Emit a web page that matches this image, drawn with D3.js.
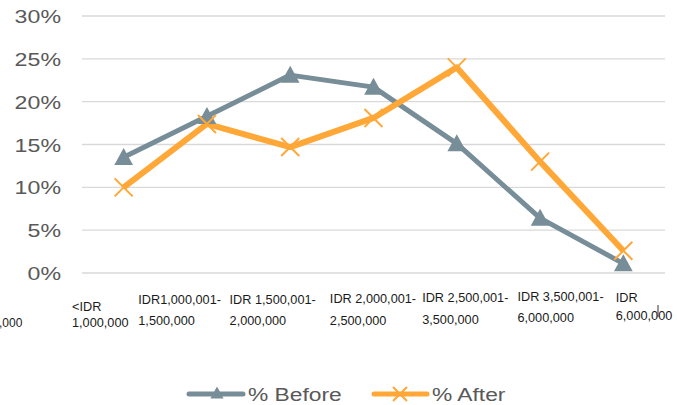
<!DOCTYPE html>
<html><head><meta charset="utf-8">
<script src="https://cdn.jsdelivr.net/npm/d3@7"></script>
<style>
html,body{margin:0;padding:0;background:#fff;}
svg{display:block;font-family:"Liberation Sans",Arial,sans-serif;}
</style></head>
<body><svg id="c" width="677" height="405"></svg>
<script>
const categories = [
  ["<IDR", "1,000,000"],
  ["IDR1,000,001-", "1,500,000"],
  ["IDR 1,500,001-", "2,000,000"],
  ["IDR 2,000,001-", "2,500,000"],
  ["IDR 2,500,001-", "3,500,000"],
  ["IDR 3,500,001-", "6,000,000"],
  ["IDR", "6,000,000"]
];
const before = [13.5, 18.3, 23.1, 21.7, 15.1, 6.4, 1.1];
const after = [10.0, 17.4, 14.7, 18.1, 24.0, 13.0, 2.6];
const yTicks = [0, 5, 10, 15, 20, 25, 30];
const seriesNames = ["% Before", "% After"];

// layout-only label placement (px) relative to category start
const labelShift = [-10, -27, -19, -2, 7, 19, 34];
const labelLine1Y = [311, 304, 304, 303, 302, 301, 302];
const labelLine2Y = [327, 325, 325, 325, 324, 322, 320];

const svg = d3.select("#c");
const gray = "#778d98", orange = "#ffa737";
const mLeft = 82, mRight = 665, mTop = 16, mBottom = 273;

const x = d3.scaleBand().domain(d3.range(categories.length)).range([mLeft, mRight]);
const y = d3.scaleLinear().domain([0, 30]).range([mBottom, mTop]);

// gridlines
svg.append("g").selectAll("line").data(yTicks).join("line")
  .attr("x1", mLeft).attr("x2", mRight)
  .attr("y1", d => y(d)).attr("y2", d => y(d))
  .attr("stroke", "#d9d9d9").attr("stroke-width", 1.3);

// y labels
const sx = 1.22;
svg.append("g").selectAll("g").data(yTicks).join("g")
  .attr("transform", d => `translate(61,${y(d) + 7}) scale(${sx},1)`)
  .append("text").attr("text-anchor", "end")
  .attr("font-size", 19).attr("fill", "#595959")
  .text(d => d + "%");

// x labels
const xl = svg.append("g").attr("font-size", 12).attr("fill", "#1a1a1a");
categories.forEach((c, i) => {
  const g = xl.append("g").attr("transform", `translate(${x(i) + labelShift[i]},0) scale(1.06,1)`);
  g.append("text").attr("x", 0).attr("y", labelLine1Y[i]).text(c[0]);
  g.append("text").attr("x", 0).attr("y", labelLine2Y[i]).text(c[1]);
});
// clipped fragment at left edge
xl.append("text").attr("x", -1).attr("y", 327).text(",000");
svg.append("line").attr("x1", 658).attr("x2", 658).attr("y1", 305).attr("y2", 317)
  .attr("stroke", "#333").attr("stroke-width", 1);

const cx = i => x(i) + x.bandwidth() / 2;
const line = d3.line().x((d, i) => cx(i)).y(d => y(d));

svg.append("path").datum(before).attr("d", line)
  .attr("fill", "none").attr("stroke", gray).attr("stroke-width", 5).attr("stroke-linejoin", "round");
svg.append("path").datum(after).attr("d", line)
  .attr("fill", "none").attr("stroke", orange).attr("stroke-width", 6).attr("stroke-linejoin", "round");

const tri = (s) => `M0,${-s * 0.55}L${s * 0.55},${s * 0.45}L${-s * 0.55},${s * 0.45}Z`;
svg.append("g").selectAll("path").data(before).join("path")
  .attr("transform", (d, i) => `translate(${cx(i)},${y(d)})`)
  .attr("d", tri(17)).attr("fill", gray);

const xm = (s) => `M${-s},${-s}L${s},${s}M${-s},${s}L${s},${-s}`;
svg.append("g").selectAll("path").data(after).join("path")
  .attr("transform", (d, i) => `translate(${cx(i)},${y(d)})`)
  .attr("d", xm(9)).attr("stroke", orange).attr("stroke-width", 2).attr("fill", "none");

// legend
const lg = svg.append("g");
lg.append("line").attr("x1", 189).attr("x2", 243).attr("y1", 394).attr("y2", 394)
  .attr("stroke", gray).attr("stroke-width", 5).attr("stroke-linecap", "round");
lg.append("path").attr("transform", "translate(217,393)").attr("d", tri(12)).attr("fill", gray);
lg.append("g").attr("transform", "translate(248,401) scale(1.2,1)")
  .append("text").attr("font-size", 19).attr("fill", "#595959").text(seriesNames[0]);
lg.append("line").attr("x1", 374).attr("x2", 427).attr("y1", 394).attr("y2", 394)
  .attr("stroke", orange).attr("stroke-width", 5).attr("stroke-linecap", "round");
lg.append("path").attr("transform", "translate(400,394)").attr("d", xm(7))
  .attr("stroke", orange).attr("stroke-width", 2).attr("fill", "none");
lg.append("g").attr("transform", "translate(432,401) scale(1.2,1)")
  .append("text").attr("font-size", 19).attr("fill", "#595959").text(seriesNames[1]);
</script></body></html>
